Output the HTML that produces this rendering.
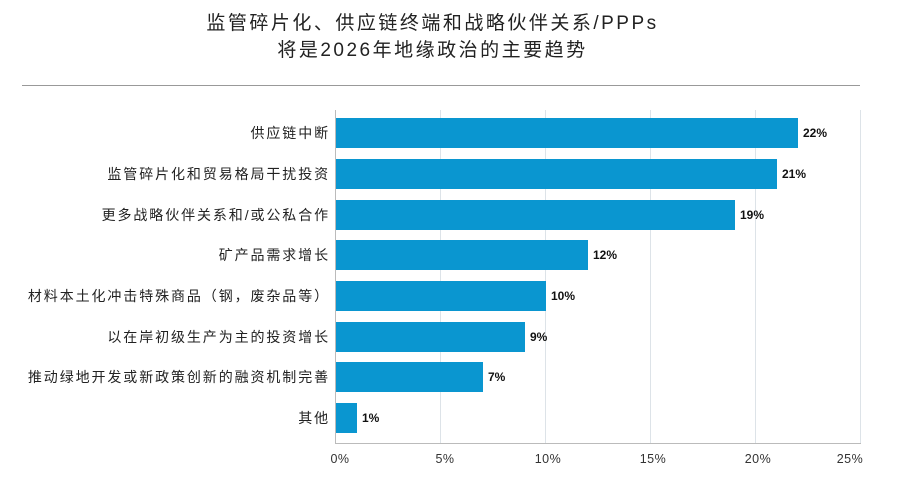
<!DOCTYPE html><html><head><meta charset="utf-8"><style>
body{margin:0;width:897px;height:481px;background:#fff;font-family:"Liberation Sans","Noto Sans CJK SC",sans-serif;position:relative;overflow:hidden}
.t{position:absolute;left:0;width:865px;text-align:center;font-size:19px;color:#222;letter-spacing:2.5px}
.l{position:absolute;right:567px;font-size:14px;color:#222;text-align:right;white-space:nowrap;letter-spacing:1.9px}
.b{position:absolute;left:336px;height:30px;background:#0a96d0}
.v{position:absolute;font-size:12px;font-weight:bold;color:#111}
.g{position:absolute;top:110px;height:333px;width:1px;background:#dde3e8}
.x{position:absolute;top:452px;font-size:12.5px;color:#333;width:40px;text-align:center;letter-spacing:0.5px}
</style></head><body>
<div class="t" style="top:8px">监管碎片化、供应链终端和战略伙伴关系/PPPs</div>
<div class="t" style="top:35px">将是2026年地缘政治的主要趋势</div>
<div style="position:absolute;left:22px;top:85px;width:838px;height:1px;background:#999"></div>
<div class="g" style="left:440px"></div><div class="g" style="left:545px"></div><div class="g" style="left:650px"></div><div class="g" style="left:755px"></div><div class="g" style="left:860px"></div>
<div style="position:absolute;left:335px;top:110px;width:1px;height:333px;background:#bbb"></div>
<div style="position:absolute;left:335px;top:443px;width:526px;height:1px;background:#bbb"></div>
<div class="l" style="top:123px">供应链中断</div><div class="b" style="top:118px;width:462px"></div><div class="v" style="left:803px;top:126px">22%</div>
<div class="l" style="top:164px">监管碎片化和贸易格局干扰投资</div><div class="b" style="top:159px;width:441px"></div><div class="v" style="left:782px;top:167px">21%</div>
<div class="l" style="top:205px">更多战略伙伴关系和/或公私合作</div><div class="b" style="top:200px;width:399px"></div><div class="v" style="left:740px;top:208px">19%</div>
<div class="l" style="top:245px">矿产品需求增长</div><div class="b" style="top:240px;width:252px"></div><div class="v" style="left:593px;top:248px">12%</div>
<div class="l" style="top:286px">材料本土化冲击特殊商品（钢，废杂品等）</div><div class="b" style="top:281px;width:210px"></div><div class="v" style="left:551px;top:289px">10%</div>
<div class="l" style="top:327px">以在岸初级生产为主的投资增长</div><div class="b" style="top:322px;width:189px"></div><div class="v" style="left:530px;top:330px">9%</div>
<div class="l" style="top:367px">推动绿地开发或新政策创新的融资机制完善</div><div class="b" style="top:362px;width:147px"></div><div class="v" style="left:488px;top:370px">7%</div>
<div class="l" style="top:408px">其他</div><div class="b" style="top:403px;width:21px"></div><div class="v" style="left:362px;top:411px">1%</div>
<div class="x" style="left:320px">0%</div><div class="x" style="left:425px">5%</div><div class="x" style="left:528px">10%</div><div class="x" style="left:633px">15%</div><div class="x" style="left:738px">20%</div><div class="x" style="left:830px">25%</div>
</body></html>
